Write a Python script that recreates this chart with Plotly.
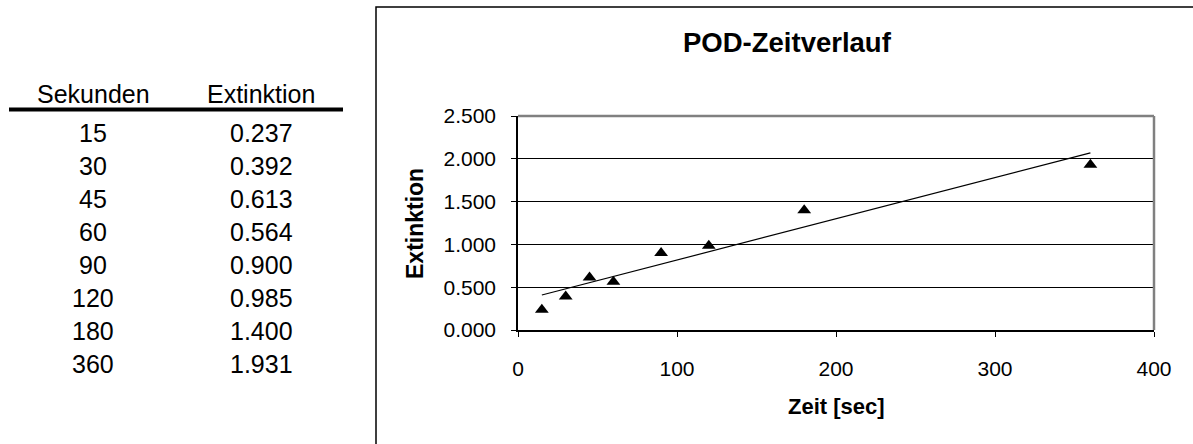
import numpy as np
import plotly.graph_objects as go

# Messwerte: POD-Zeitverlauf
sekunden = [15, 30, 45, 60, 90, 120, 180, 360]
extinktion = [0.237, 0.392, 0.613, 0.564, 0.900, 0.985, 1.400, 1.931]
x_ticks = [0, 100, 200, 300, 400]
y_ticks = [0.0, 0.5, 1.0, 1.5, 2.0, 2.5]

W, H = 1193, 444
L, R, T, B = 518, 1154, 116, 330
FONT = "Liberation Sans, Arial, Helvetica, sans-serif"


def px(x):
    return (x - L) / (R - L)


def py(y):
    return (B - y) / (B - T)


# Lineare Trendlinie
slope, intercept = np.polyfit(sekunden, extinktion, 1)
trend_x = [min(sekunden), max(sekunden)]
trend_y = [slope * v + intercept for v in trend_x]

fig = go.Figure()
fig.add_trace(go.Scatter(
    x=trend_x, y=trend_y, mode="lines",
    line=dict(color="black", width=1.2), hoverinfo="skip", showlegend=False,
))
fig.add_trace(go.Scatter(
    x=sekunden, y=extinktion, mode="markers",
    marker=dict(symbol="triangle-up", size=12, color="black"),
    showlegend=False,
))

annotations = []
shapes = []

# Tabelle links
col_x = [93, 261]
annotations.append(dict(text="Sekunden", x=px(col_x[0]), y=py(94)))
annotations.append(dict(text="Extinktion", x=px(col_x[1]), y=py(94)))
for i, (s, e) in enumerate(zip(sekunden, extinktion)):
    yy = 133 + 33 * i
    annotations.append(dict(text=str(s), x=px(col_x[0]), y=py(yy)))
    annotations.append(dict(text=f"{e:.3f}", x=px(col_x[1]), y=py(yy)))
for a in annotations:
    a.update(xref="paper", yref="paper", showarrow=False,
             xanchor="center", yanchor="middle",
             font=dict(family=FONT, size=25, color="black"))

shapes.append(dict(type="line", xref="paper", yref="paper",
                   x0=px(9), x1=px(343), y0=py(109.5), y1=py(109.5),
                   line=dict(color="black", width=4)))

# Diagrammrahmen
shapes.append(dict(type="rect", xref="paper", yref="paper",
                   x0=px(376), x1=px(1300), y0=py(7), y1=py(600),
                   line=dict(color="black", width=1.5), layer="below"))
# Zeichenfläche: oben und rechts grau
shapes.append(dict(type="line", xref="paper", yref="paper",
                   x0=0, x1=1, y0=1, y1=1,
                   line=dict(color="#808080", width=2.5), layer="above"))
shapes.append(dict(type="line", xref="paper", yref="paper",
                   x0=1, x1=1, y0=0, y1=1,
                   line=dict(color="#808080", width=2.5), layer="above"))

# Titel und Achsentitel
annotations.append(dict(text="<b>POD-Zeitverlauf</b>", xref="paper", yref="paper",
                        x=px(787), y=py(42), showarrow=False,
                        xanchor="center", yanchor="middle",
                        font=dict(family=FONT, size=27.5, color="black")))
annotations.append(dict(text="<b>Zeit [sec]</b>", xref="paper", yref="paper",
                        x=px(836), y=py(406), showarrow=False,
                        xanchor="center", yanchor="middle",
                        font=dict(family=FONT, size=22, color="black")))
annotations.append(dict(text="<b>Extinktion</b>", xref="paper", yref="paper",
                        x=px(415), y=py(224), showarrow=False, textangle=-90,
                        xanchor="center", yanchor="middle",
                        font=dict(family=FONT, size=23, color="black")))

fig.update_layout(
    width=W, height=H, autosize=False,
    margin=dict(l=L, r=W - R, t=T, b=H - B, pad=0),
    paper_bgcolor="white", plot_bgcolor="white",
    font=dict(family=FONT, color="black"),
    annotations=annotations, shapes=shapes,
)
fig.update_xaxes(
    range=[0, 400], tickvals=x_ticks, ticktext=[str(v) for v in x_ticks],
    showgrid=False, zeroline=False,
    showline=True, linecolor="black", linewidth=1.5,
    ticks="outside", ticklen=5, tickcolor="black", tickwidth=1,
    ticklabelstandoff=14,
    tickfont=dict(family=FONT, size=21, color="black"),
)
fig.update_yaxes(
    range=[0, 2.5], tickvals=y_ticks, ticktext=[f"{v:.3f}" for v in y_ticks],
    showgrid=True, gridcolor="black", gridwidth=1, zeroline=False,
    showline=True, linecolor="black", linewidth=1.5,
    ticks="outside", ticklen=5, tickcolor="black", tickwidth=1,
    ticklabelstandoff=11,
    tickfont=dict(family=FONT, size=21, color="black"),
)

fig.write_html("out.html")
